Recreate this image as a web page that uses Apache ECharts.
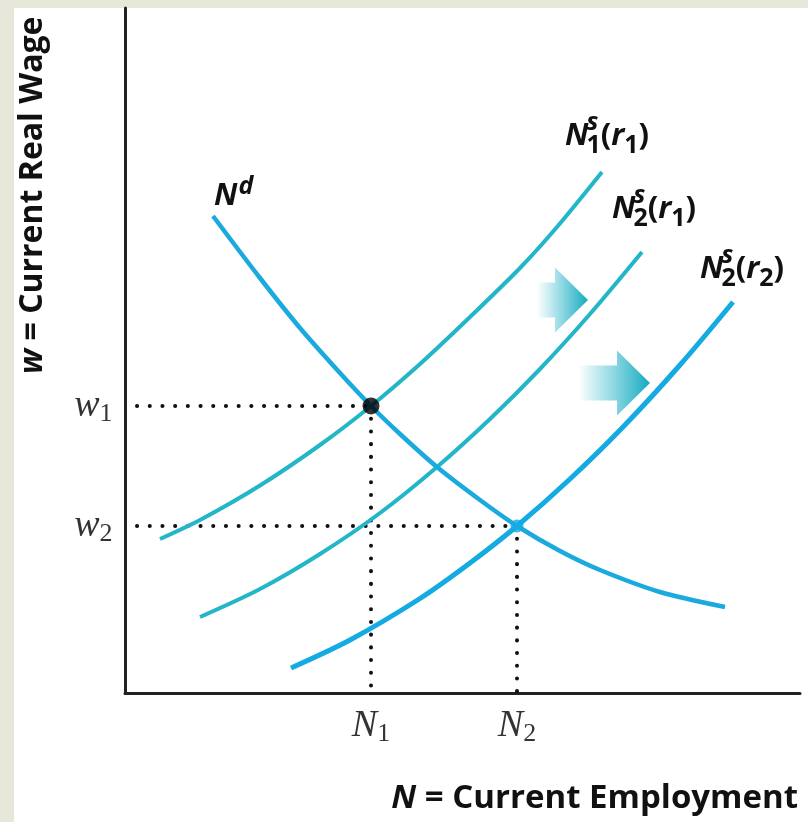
<!DOCTYPE html>
<html><head><meta charset="utf-8">
<script src="https://cdn.jsdelivr.net/npm/echarts@6/dist/echarts.min.js"></script>
<style>html,body{margin:0;padding:0;background:#fff}#c{width:808px;height:822px}</style>
</head><body><div id="c"></div>
<script>
// ---- data (abstract units; x 0..135, y 0..137) ----
const xMax = 135, yMax = 137;
const ndX    = [17.6, 27, 35, 43, 49.2, 55, 62.4, 71, 78.4, 87, 95, 107, 120];
const ndY    = [95.4, 83, 73, 64, 57.4, 51.8, 45.2, 38.6, 33.4, 28.4, 24.6, 20.2, 17.2];
const ns1r1X = [7, 15, 27, 39, 49.2, 59, 69, 79, 86.4, 95.4];
const ns1r1Y = [30.8, 34.6, 41.5, 49.6, 57.4, 65.8, 75.2, 85, 93.2, 104.2];
const ns2r1X = [15, 27, 39, 51, 62.4, 73, 83, 93, 103.4];
const ns2r1Y = [15.2, 20.8, 27.8, 36, 45.2, 54.8, 64.8, 75.8, 88.2];
const ns2r2X = [33.2, 45, 59, 69, 78.4, 89, 99.6, 111, 121.6];
const ns2r2Y = [5, 10.6, 18.9, 26, 33.4, 42.8, 53.2, 65.6, 78.2];
const eqX = [49.2, 78.4];       // N1, N2
const eqY = [57.4, 33.4];       // w1, w2
const dotStartX = 2.4;
const xTickBase = ['N', 'N'], xTickSub = ['1', '2'];
const yTickBase = ['w', 'w'], yTickSub = ['1', '2'];
// shift arrows: tail x, head-base x, tip x, centre y
const arrowTail = [82.4, 90.6];
const arrowHead = [86, 98.4];
const arrowTip  = [92.6, 105];
const arrowY    = [78.6, 62];
// curve label anchors (left, baseline)
const curveLabelX = [17.8, 88, 97.4, 115];
const curveLabelY = [97.6, 109.6, 95, 83];
const curveLabelSub = [null, '1', '2', '2'];
const curveLabelArg = [null, '1', '1', '2'];

const C_ND = '#1aaade', C_TEAL = '#22b6c8', C_R2 = '#14aae2';

const chart = echarts.init(document.getElementById('c'));
const pairs = (xs, ys) => xs.map((x, i) => [x, ys[i]]);
const dotLine = {color: '#111', width: 4, type: [0.1, 12.6], cap: 'round'};
function dotted(data) {
  return {type: 'line', data, symbol: 'none', silent: true, z: 1, lineStyle: dotLine, animation: false};
}
function curve(xs, ys, color, w) {
  return {type: 'line', data: pairs(xs, ys), symbol: 'none', smooth: 0.3,
    silent: true, z: 3, lineStyle: {color, width: w, cap: 'butt'}, animation: false};
}
const serif = 'Liberation Serif';
const tickRich = {i: {fontFamily: serif, fontStyle: 'italic', fontSize: 38, color: '#000', lineHeight: 42},
                  s: {fontFamily: serif, fontSize: 26, color: '#000', lineHeight: 29, verticalAlign: 'bottom'}};
chart.setOption({
  backgroundColor: '#fff',
  animation: false,
  grid: {left: 125, right: 8, top: 8, bottom: 129},
  xAxis: {type: 'value', min: 0, max: xMax, axisLine: {onZero: false, lineStyle: {color: '#222', width: 3}},
    axisTick: {show: false}, axisLabel: {show: false}, splitLine: {show: false}},
  yAxis: {type: 'value', min: 0, max: yMax, axisLine: {show: true, onZero: false, lineStyle: {color: '#222', width: 3}},
    axisTick: {show: false}, axisLabel: {show: false}, splitLine: {show: false}},
  series: [
    dotted([[dotStartX, eqY[0]], [eqX[0], eqY[0]]]),
    dotted([[dotStartX, eqY[1]], [eqX[1], eqY[1]]]),
    dotted([[eqX[0], eqY[0]], [eqX[0], 0]]),
    dotted([[eqX[1], eqY[1]], [eqX[1], 0]]),
    curve(ns1r1X, ns1r1Y, C_TEAL, 4),
    curve(ns2r1X, ns2r1Y, C_TEAL, 4),
    curve(ns2r2X, ns2r2Y, C_R2, 5),
    curve(ndX, ndY, C_ND, 4.5),
    {type: 'scatter', silent: true, z: 6, symbolSize: 17, itemStyle: {color: '#000'}, data: [[eqX[0], eqY[0]]]},
    {type: 'scatter', silent: true, z: 6, symbolSize: 13, itemStyle: {color: C_R2}, data: [[eqX[1], eqY[1]]]},
    {type: 'scatter', silent: true, symbolSize: 1, itemStyle: {color: 'rgba(0,0,0,0)'},
      data: eqY.map((y, i) => ({value: [0, y], label: {formatter: '{i|' + yTickBase[i] + '}{s|' + yTickSub[i] + '}'}})),
      label: {show: true, position: 'left', distance: 12, rich: tickRich}},
    {type: 'scatter', silent: true, symbolSize: 1, itemStyle: {color: 'rgba(0,0,0,0)'},
      data: eqX.map((x, i) => ({value: [x, 0], label: {formatter: '{i|' + xTickBase[i] + '}{s|' + xTickSub[i] + '}'}})),
      label: {show: true, position: 'bottom', distance: 12, rich: tickRich}}
  ]
});

// ---- text helpers ----
const mctx = document.createElement('canvas').getContext('2d');
function fontStr(p) { return (p.it ? 'italic ' : 'normal ') + (p.w || 700) + ' ' + p.s + 'px ' + (p.f || '"Open Sans"'); }
function tw(p) { mctx.font = fontStr(p); return mctx.measureText(p.t).width; }
function partsWidth(parts) { return parts.reduce((a, p) => a + (p.stack ? 0 : tw(p) + (p.gap || 0)), 0); }
function partEls(parts) {
  let x = 0; const els = [];
  parts.forEach(p => {
    els.push({type: 'text', x: x, y: (p.dy || 0) - 0.30 * p.s,
      style: {text: p.t, font: fontStr(p), fill: '#111', verticalAlign: 'middle', align: 'left'}});
    if (!p.stack) x += tw(p) + (p.gap || 0);
  });
  return els;
}

function buildGraphics() {
  const g = [];
  g.push({type: 'rect', shape: {x: 0, y: 0, width: 14, height: 822}, style: {fill: '#e7e7da'}, silent: true});
  g.push({type: 'rect', shape: {x: 0, y: 0, width: 808, height: 8}, style: {fill: '#e7e7da'}, silent: true});
  for (let i = 0; i < arrowTail.length; i++) {
    const a = chart.convertToPixel({gridIndex: 0}, [arrowTail[i], arrowY[i]]);
    const h = chart.convertToPixel({gridIndex: 0}, [arrowHead[i], arrowY[i]]);
    const t = chart.convertToPixel({gridIndex: 0}, [arrowTip[i], arrowY[i]]);
    const c = a[1], bh = 17.5, hh = 32.5;
    g.push({type: 'polygon', silent: true, z: 2,
      shape: {points: [[a[0], c - bh], [h[0], c - bh], [h[0], c - hh], [t[0], c], [h[0], c + hh], [h[0], c + bh], [a[0], c + bh]]},
      style: {fill: {type: 'linear', x: 0, y: 0, x2: 1, y2: 0,
        colorStops: [{offset: 0, color: 'rgba(26,176,196,0)'}, {offset: 0.45, color: 'rgba(26,176,196,0.45)'}, {offset: 1, color: 'rgba(20,170,190,1)'}]}}});
  }
  const M = 31, S = 25;
  for (let i = 0; i < curveLabelX.length; i++) {
    const p = chart.convertToPixel({gridIndex: 0}, [curveLabelX[i], curveLabelY[i]]);
    let parts;
    if (i === 0) parts = [{t: 'N', s: M, it: true, gap: 1}, {t: 'd', s: S, it: true, dy: -11}];
    else parts = [{t: 'N', s: M, it: true, gap: -2}, {t: 's', s: S, it: true, dy: -15, stack: true},
      {t: curveLabelSub[i], s: S, dy: 8}, {t: '(', s: M, gap: 0}, {t: 'r', s: M, it: true},
      {t: curveLabelArg[i], s: S, dy: 8}, {t: ')', s: M}];
    g.push({type: 'group', x: p[0], y: p[1], children: partEls(parts), silent: true});
  }
  const AT = 33, AY = 32;
  const xParts = [{t: 'N', s: AT, it: true}, {t: ' = Current Employment', s: AT}];
  g.push({type: 'group', x: 798 - partsWidth(xParts), y: 808, children: partEls(xParts), silent: true});
  const yParts = [{t: 'w', s: AY, it: true}, {t: ' = Current Real Wage', s: AY}];
  g.push({type: 'group', x: 42, y: 374, rotation: Math.PI / 2, children: partEls(yParts), silent: true});
  return g;
}
chart.setOption({graphic: buildGraphics()});
</script></body></html>
